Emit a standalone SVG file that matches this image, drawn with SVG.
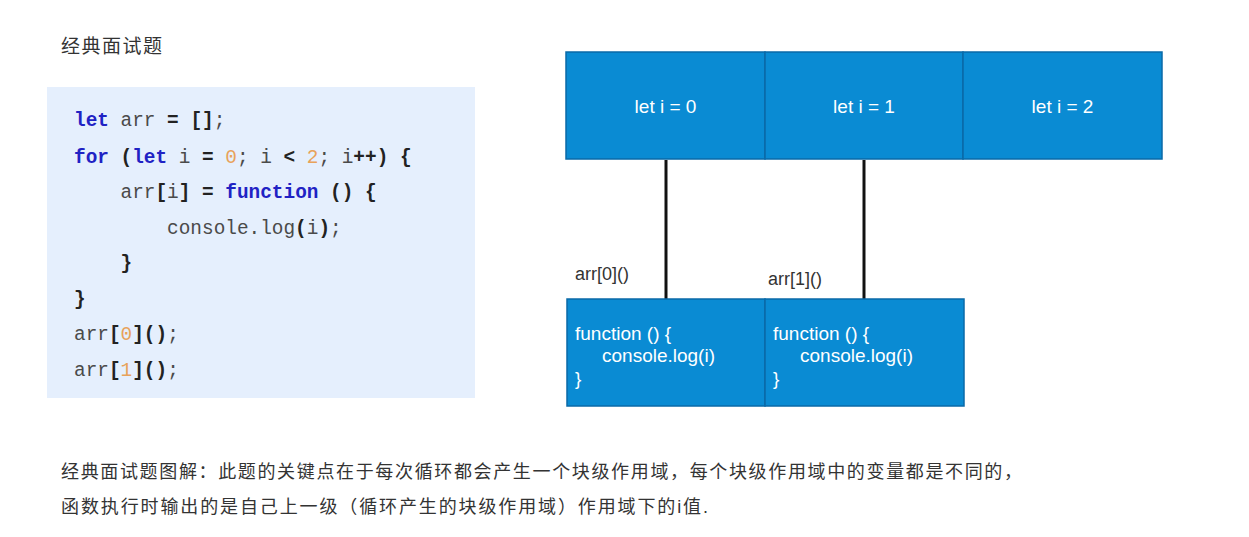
<svg xmlns="http://www.w3.org/2000/svg" width="1249" height="537" viewBox="0 0 1249 537">
<style>
.cjk{font-family:"Liberation Sans","Noto Sans CJK SC",sans-serif;fill:#333;}
.code{font-family:"Liberation Mono",monospace;font-size:19.4px;fill:#4a4a4a;}
.k{fill:#1f22c4;font-weight:bold;}
.p{fill:#222;font-weight:bold;}
.n{fill:#e8a25a;}
.box{fill:#0a8bd3;stroke:#0a6aa8;stroke-width:1.5;}
.bt{font-family:"Liberation Sans",Arial,sans-serif;font-size:19px;fill:#fff;}
.lbl{font-family:"Liberation Sans",Arial,sans-serif;font-size:18px;fill:#333;}
.conn{stroke:#111;stroke-width:3;fill:none;}
</style>
<rect width="1249" height="537" fill="#fff"/>
<text class="cjk" x="61" y="53" font-size="19" textLength="101" lengthAdjust="spacing">经典面试题</text>
<g id="code">
<rect x="47" y="87" width="428" height="311" fill="#e5effd"/>
<text class="code" xml:space="preserve">
<tspan x="74" y="126"><tspan class="k">let</tspan> arr <tspan class="p">=</tspan> <tspan class="p">[]</tspan>;</tspan>
<tspan x="74" y="163"><tspan class="k">for</tspan> <tspan class="p">(</tspan><tspan class="k">let</tspan> i <tspan class="p">=</tspan> <tspan class="n">0</tspan>; i <tspan class="p">&lt;</tspan> <tspan class="n">2</tspan>; i<tspan class="p">++)</tspan> <tspan class="p">{</tspan></tspan>
<tspan x="74" y="198">    arr<tspan class="p">[</tspan>i<tspan class="p">]</tspan> <tspan class="p">=</tspan> <tspan class="k">function</tspan> <tspan class="p">()</tspan> <tspan class="p">{</tspan></tspan>
<tspan x="74" y="234">        console.log<tspan class="p">(</tspan>i<tspan class="p">)</tspan>;</tspan>
<tspan x="74" y="269">    <tspan class="p">}</tspan></tspan>
<tspan x="74" y="305"><tspan class="p">}</tspan></tspan>
<tspan x="74" y="340">arr<tspan class="p">[</tspan><tspan class="n">0</tspan><tspan class="p">]()</tspan>;</tspan>
<tspan x="74" y="376">arr<tspan class="p">[</tspan><tspan class="n">1</tspan><tspan class="p">]()</tspan>;</tspan>
</text>
</g>
<g id="connectors">
<line class="conn" x1="666" y1="160" x2="666" y2="299"/>
<line class="conn" x1="864" y1="160" x2="864" y2="299"/>
</g>
<g id="scope0">
<rect class="box" x="566" y="52" width="199" height="107"/>
<text class="bt" x="665.5" y="113" text-anchor="middle">let i = 0</text>
</g>
<g id="scope1">
<rect class="box" x="765" y="52" width="198" height="107"/>
<text class="bt" x="864" y="113" text-anchor="middle">let i = 1</text>
</g>
<g id="scope2">
<rect class="box" x="963" y="52" width="199" height="107"/>
<text class="bt" x="1062.5" y="113" text-anchor="middle">let i = 2</text>
</g>
<g id="label0"><text class="lbl" x="575" y="280">arr[0]()</text></g>
<g id="label1"><text class="lbl" x="768" y="285">arr[1]()</text></g>
<g id="func0">
<rect class="box" x="567" y="299" width="198" height="107"/>
<text class="bt" x="575" y="340">function () {</text>
<text class="bt" x="602" y="362">console.log(i)</text>
<text class="bt" x="575" y="385">}</text>
</g>
<g id="func1">
<rect class="box" x="765" y="299" width="199" height="107"/>
<text class="bt" x="773" y="340">function () {</text>
<text class="bt" x="800" y="362">console.log(i)</text>
<text class="bt" x="773" y="385">}</text>
</g>
<text class="cjk" x="61" y="478" font-size="18" textLength="961" lengthAdjust="spacing">经典面试题图解：此题的关键点在于每次循环都会产生一个块级作用域，每个块级作用域中的变量都是不同的，</text>
<text class="cjk" x="61" y="513" font-size="18" textLength="647" lengthAdjust="spacing">函数执行时输出的是自己上一级（循环产生的块级作用域）作用域下的i值.</text>
</svg>
